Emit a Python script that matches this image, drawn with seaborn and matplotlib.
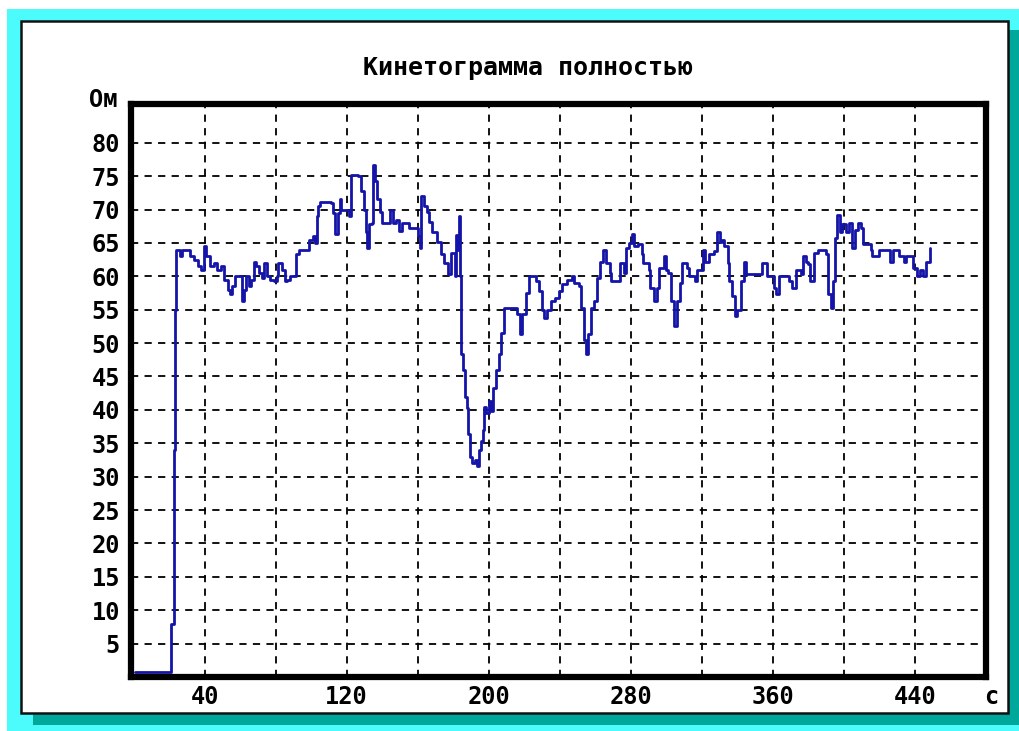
import numpy as np
import pandas as pd
import matplotlib
matplotlib.use("Agg")
import matplotlib.pyplot as plt
from matplotlib.patches import Rectangle
import seaborn as sns

# ---- data (time in s, resistance in Ohm) ----
time_s = [0.5, 21, 21, 22, 22.5, 23.5, 24, 26, 27, 30, 32, 34, 36, 38, 39.5, 41, 43, 45, 47, 49,
          51, 53, 54, 55.5, 57, 59, 61, 62, 63.5, 65, 66, 68, 69, 70.5, 72, 73.5, 75, 77, 79, 80.5,
          81.5, 83.5, 85, 86.5, 88, 90.5, 91.5, 93, 97, 99, 101, 102, 103, 104, 105, 111, 112.5, 113.5, 115, 116,
          117, 119, 121, 122.5, 126.5, 128, 129.5, 131, 131.5, 132.5, 134, 135, 136, 137, 138.5, 140, 144, 144.5, 146, 148,
          149.5, 151, 155, 159, 160, 161, 162, 163.5, 165, 166.5, 168, 171, 173, 175, 177, 178.5, 180, 181,
          181.5, 182.5, 183.3, 184, 184.5, 185.5, 186.5, 187.5, 188.5, 189.5, 190.5, 192.5, 193.5, 194.5, 195.5, 196.5, 197.5, 198.5,
          200, 201.5, 202.5, 204, 205.5, 207, 208.5, 215, 216, 217.5, 218.5, 219.8, 221, 222.6, 226.5, 228, 230, 231,
          233, 235, 237, 239.4, 241, 244, 246.7, 248, 250.7, 252, 253.5, 254.5, 256, 257.5, 259, 261, 262.5, 264.5,
          266, 268, 269, 273, 274, 276, 277.5, 279, 280.4, 282, 284, 286, 287, 290, 291, 293, 294.5, 296,
          298.5, 300, 301, 302.5, 304.5, 306, 307.5, 309, 311.5, 313, 316, 317, 319.5, 320.5, 322, 324, 327, 328.5,
          330, 331.5, 332.5, 334.5, 335.5, 337, 338.5, 340, 342, 343.5, 345, 353, 354, 356.5, 359, 360.5, 362, 363.5,
          367, 369, 371, 373, 376, 377, 378.5, 380, 381, 383, 385.5, 389, 390, 391, 392.5, 394, 395, 396,
          397.5, 399, 401, 403, 404.5, 406, 408, 409.5, 411, 415, 416, 419, 420, 424.8, 426, 427.6, 430.4, 431,
          434, 435, 437.7, 439, 441, 443, 444.4, 446, 448.5]
resistance = [0.7, 0.7, 8, 8, 34, 55, 64, 63, 64, 64, 63, 62.5, 61.5, 61, 64.5, 63, 61.5, 62, 61, 61.5,
              59.5, 58, 57.3, 58.5, 60, 60, 56.3, 58, 60, 58.5, 59.5, 62.2, 61.5, 60.5, 59.7, 62, 60, 59.5, 59.3, 60,
              62, 61, 59.3, 59.5, 60, 60, 63.3, 64, 64, 65.5, 66, 65, 69, 70.5, 71.2, 71, 69.5, 66.3, 69.5, 71.6,
              70, 70, 69, 75.2, 75, 72.7, 70, 66.7, 64.2, 67.8, 68, 76.7, 74.2, 71.6, 69.7, 68, 68, 70, 68, 68.5,
              66.8, 68, 67.3, 67.2, 66, 64.2, 72, 70.5, 69.7, 68.2, 66.7, 65.2, 63.3, 62, 60.3, 63.5, 63.5, 60,
              66.2, 64, 69, 60, 48.4, 46, 42, 40.3, 36.4, 33, 32, 32.5, 31.6, 34, 35.4, 37, 40.5, 39.5,
              41.3, 39.8, 43.3, 46, 48.4, 51.5, 55.2, 55.2, 54.3, 51.3, 54.3, 54.3, 57.5, 60, 59.3, 57.8, 55, 53.7,
              55, 56.3, 56.7, 57.8, 58.8, 59.5, 60, 59, 58.5, 55.2, 50.5, 48.4, 51.3, 55.2, 56.3, 59.7, 62.2, 64,
              62, 60.5, 59.3, 59.3, 62, 60.5, 64.2, 65, 66.3, 64.5, 64.8, 63.3, 62, 61, 58.2, 56.3, 58.2, 61.2,
              63, 61, 60.5, 56.3, 52.5, 56.3, 59, 62, 61.2, 60, 59.3, 61, 61, 64, 62.2, 63.3, 63.8, 66.7,
              65.2, 65.5, 64.5, 62, 59.3, 57, 54, 55, 59.3, 62.2, 60.3, 60.3, 62, 60, 60, 58.2, 57.3, 60,
              60, 59.3, 58.2, 61, 60.3, 63, 62.2, 61.8, 59.3, 63.5, 64, 64, 63.3, 57.3, 55.2, 59.3, 65.7, 69.2,
              66.7, 67.8, 66.7, 68, 64.2, 67, 68, 67.3, 64.8, 64, 63, 63, 64, 64, 62.2, 64, 64, 63,
              62.2, 63, 63, 61.2, 60, 61, 60, 62.2, 64.3]

x_ticks = [40, 80, 120, 160, 200, 240, 280, 320, 360, 400, 440]
x_labels = ["40", "", "120", "", "200", "", "280", "", "360", "", "440"]
y_ticks = [5, 10, 15, 20, 25, 30, 35, 40, 45, 50, 55, 60, 65, 70, 75, 80]
y_labels = [str(v) for v in y_ticks]
title = "Кинетограмма полностью"
y_unit = "Ом"
x_unit = "c"

df = pd.DataFrame({"t": time_s, "r": resistance})

sns.set_style("white")
plt.rcParams["font.family"] = ["DejaVu Sans Mono", "DejaVu Sans"]
plt.rcParams["font.weight"] = "bold"
plt.rcParams["text.color"] = "black"

W, H = 1019, 731
fig = plt.figure(figsize=(W / 100, H / 100), dpi=100)
fig.patch.set_facecolor("white")

def px_rect(x0, y0, x1, y1, **kw):
    # pixel coords with origin top-left
    r = Rectangle((x0 / W, 1 - y1 / H), (x1 - x0) / W, (y1 - y0) / H,
                  transform=fig.transFigure, **kw)
    fig.add_artist(r)
    return r

px_rect(7, 9, 1019, 731, facecolor="#4cfcfc", edgecolor="none", zorder=-10)
px_rect(33, 30, 1019, 725, facecolor="#00a89c", edgecolor="none", zorder=-9)
px_rect(21, 21, 1008, 713, facecolor="white", edgecolor="#111111", linewidth=1.8, zorder=-8)

ax_l, ax_r, ax_t, ax_b = 131, 986, 104, 677
ax = fig.add_axes([ax_l / W, 1 - ax_b / H, (ax_r - ax_l) / W, (ax_b - ax_t) / H])
ax.set_facecolor("white")

sns.lineplot(data=df, x="t", y="r", sort=False, estimator=None, ax=ax,
             color="#1414a8", linewidth=2.0, drawstyle="steps-post")

ax.set_xlim(-1.5, 480)
ax.set_ylim(0, 85.8)
ax.set_xticks(x_ticks)
ax.set_xticklabels(x_labels)
ax.set_yticks(y_ticks)
ax.set_yticklabels(y_labels)
ax.tick_params(axis="both", length=0, labelsize=17, colors="black")
ax.tick_params(axis="x", pad=6)
ax.tick_params(axis="y", pad=8)
for lab in ax.get_xticklabels() + ax.get_yticklabels():
    lab.set_fontweight("bold")
ax.set_xlabel("")
ax.set_ylabel("")
ax.grid(True, color="black", linestyle=(0, (4, 3.5)), linewidth=1.3)
for s in ax.spines.values():
    s.set_visible(True)
    s.set_color("black")
    s.set_linewidth(4.5)

fig.text(528 / W, 1 - 68 / H, title, ha="center", va="center", fontsize=18, fontweight="bold", color="black")
fig.text(117 / W, 1 - 100 / H, y_unit, ha="right", va="center", fontsize=17, fontweight="bold", color="black")
fig.text(991 / W, 1 - 697 / H, x_unit, ha="center", va="center", fontsize=17, fontweight="bold", color="black")

fig.savefig("out.png", dpi=100)
